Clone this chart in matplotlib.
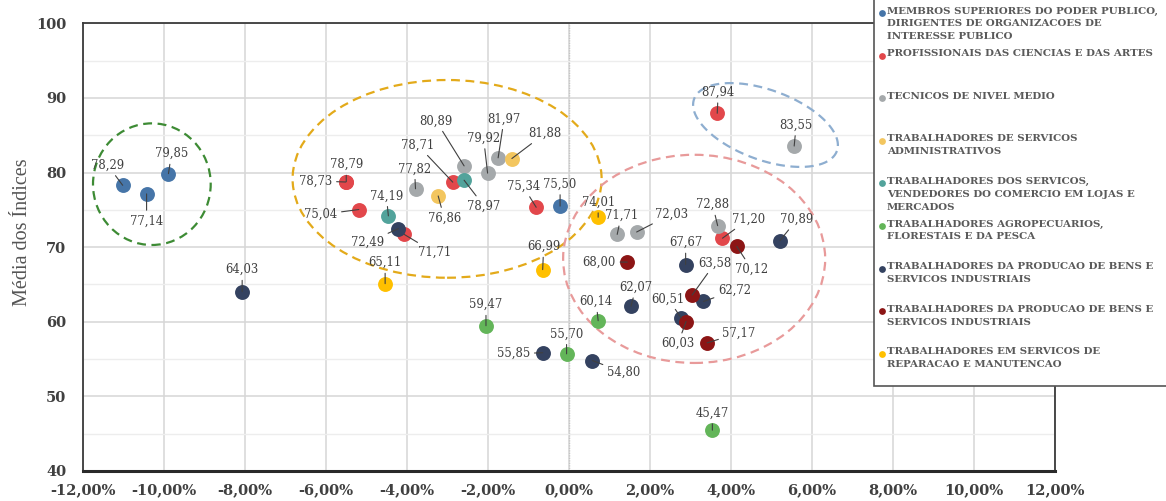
import numpy as np
import matplotlib
matplotlib.use("Agg")
import matplotlib.pyplot as plt
from matplotlib.patches import Ellipse, Rectangle
from matplotlib.ticker import MultipleLocator, FuncFormatter

# ---------------- data ----------------
categories = [
    "MEMBROS SUPERIORES DO PODER PUBLICO,\nDIRIGENTES DE ORGANIZACOES DE\nINTERESSE PUBLICO",
    "PROFISSIONAIS DAS CIENCIAS E DAS ARTES",
    "TECNICOS DE NIVEL MEDIO",
    "TRABALHADORES DE SERVICOS\nADMINISTRATIVOS",
    "TRABALHADORES DOS SERVICOS,\nVENDEDORES DO COMERCIO EM LOJAS E\nMERCADOS",
    "TRABALHADORES AGROPECUARIOS,\nFLORESTAIS E DA PESCA",
    "TRABALHADORES DA PRODUCAO DE BENS E\nSERVICOS INDUSTRIAIS",
    "TRABALHADORES DA PRODUCAO DE BENS E\nSERVICOS INDUSTRIAIS",
    "TRABALHADORES EM SERVICOS DE\nREPARACAO E MANUTENCAO",
]

x_membros = [-11.02, -10.43, -9.89, -0.22]
y_membros = [78.29, 77.14, 79.85, 75.50]

x_prof = [-5.50, -5.51, -5.19, -4.07, -2.87, -0.81, 3.66, 3.79]
y_prof = [78.79, 78.73, 75.04, 71.71, 78.71, 75.34, 87.94, 71.20]

x_tec = [-3.79, -2.59, -2.01, -1.75, 1.19, 1.67, 3.67, 5.56]
y_tec = [77.82, 80.89, 79.92, 81.97, 71.71, 72.03, 72.88, 83.55]

x_adm = [-3.23, -1.41]
y_adm = [76.86, 81.88]

x_serv = [-4.46, -2.59]
y_serv = [74.19, 78.97]

x_agro = [-2.05, -0.06, 0.72, 3.54]
y_agro = [59.47, 55.70, 60.14, 45.47]

x_prod = [-8.07, -4.21, -0.65, 0.58, 1.53, 2.88, 2.77, 3.32, 5.21]
y_prod = [64.03, 72.49, 55.85, 54.80, 62.07, 67.67, 60.51, 62.72, 70.89]

x_prod2 = [1.44, 3.04, 2.89, 4.14, 3.41]
y_prod2 = [68.00, 63.58, 60.03, 70.12, 57.17]

x_rep = [-4.54, -0.65, 0.72]
y_rep = [65.11, 66.99, 74.01]

xs = [x_membros, x_prof, x_tec, x_adm, x_serv, x_agro, x_prod, x_prod2, x_rep]
ys = [y_membros, y_prof, y_tec, y_adm, y_serv, y_agro, y_prod, y_prod2, y_rep]

# ---------------- styling / positions ----------------
colors = ["#4675a8", "#e2474b", "#a5a9ab", "#f3c65f", "#52a39b",
          "#63b559", "#344260", "#8c1515", "#ffc000"]

# label offsets in pixels (dx, dy), parallel to each series
offsets = [
    [(-15, 20), (0, -27), (3, 20), (0, 22)],
    [(0, 17), (-30, 1), (-38, -5), (30, -18), (-35, 37), (-13, 21), (1, 21), (26, 19)],
    [(-1, 20), (-28, 45), (-4, 35), (6, 39), (4, 19), (35, 18), (-5, 21), (2, 21)],
    [(6, -22), (33, 25)],
    [(-2, 20), (20, -26)],
    [(0, 21), (0, 20), (-2, 19), (0, 17)],
    [(0, 22), (-31, -14), (-29, -1), (31, -12), (5, 19), (0, 22), (-13, 19), (31, 11), (17, 21)],
    [(-28, 0), (23, 32), (-8, -22), (15, -23), (32, 10)],
    [(0, 21), (1, 23), (0, 15)],
]

W, H = 1166, 501
fig = plt.figure(figsize=(W / 100, H / 100), dpi=100)
L, R, T, B = 83, 1055, 23.3, 471
ax = fig.add_axes([L / W, (H - B) / H, (R - L) / W, (B - T) / H])

ax.set_xlim(-12, 12)
ax.set_ylim(40, 100)

# grid
ax.xaxis.set_major_locator(MultipleLocator(2))
ax.yaxis.set_major_locator(MultipleLocator(10))
ax.yaxis.set_minor_locator(MultipleLocator(5))
ax.grid(True, which="major", color="#d6d6d6", lw=1.1, zorder=0)
ax.grid(True, which="minor", axis="y", color="#ededed", lw=1.0, zorder=0)
ax.axvline(0, color="#8a8a8a", lw=0.9, ls=(0, (1, 1)), zorder=0.5)
ax.tick_params(axis="both", which="both", length=0)

for s in ["left", "top", "right"]:
    ax.spines[s].set_color("#3a3a3a")
    ax.spines[s].set_linewidth(1.3)
ax.spines["bottom"].set_color("#2a2a2a")
ax.spines["bottom"].set_linewidth(2.2)

ax.xaxis.set_major_formatter(FuncFormatter(lambda v, p: f"{v:.2f}%".replace(".", ",")))
ax.tick_params(axis="x", pad=9)
ax.tick_params(axis="y", pad=12)
tick_font = dict(family="DejaVu Serif", weight="bold", size=10.5)
plt.setp(ax.get_xticklabels(), **tick_font, color="#404040")
plt.setp(ax.get_yticklabels(), **tick_font, color="#404040")

ax.set_ylabel("Média dos Índices", family="Liberation Serif", size=14.5, color="#555555")
ax.yaxis.set_label_coords(-0.0525, 0.534)

# points
for xv, yv, c in zip(xs, ys, colors):
    ax.scatter(xv, yv, s=115, color=c, zorder=3, linewidths=0)

# labels
for xv, yv, offs in zip(xs, ys, offsets):
    for x, y, (dx, dy) in zip(xv, yv, offs):
        ax.annotate(f"{y:.2f}".replace(".", ","), xy=(x, y), xytext=(dx, dy),
                    textcoords="offset pixels", ha="center", va="center",
                    family="DejaVu Serif", size=8.4, color="#404040", zorder=4,
                    arrowprops=dict(arrowstyle="-", color="#404040", lw=0.8,
                                    shrinkA=1, shrinkB=0))

# dashed ellipses
dash = (0, (4, 2.5))
ell_specs = [
    ((-10.30, 78.44), 2.906, 16.3, "#3d8b34"),
    ((-3.01, 79.15), 7.63, 26.5, "#e3aa1a"),
    ((3.09, 68.43), 6.47, 27.9, "#e89a9a"),
]
for (cx, cy), w, h, c in ell_specs:
    ax.add_patch(Ellipse((cx, cy), w, h, fill=False, ec=c, lw=1.6, ls=dash, zorder=2))

# tilted ellipse (defined in pixel geometry, converted to data)
px_per_x = (R - L) / 24.0
px_per_y = (B - T) / 60.0
t = np.linspace(0, 2 * np.pi, 300)
a, b, ang = 76, 35, np.deg2rad(20)
cxp, cyp = 765.5, 125.0
u = a * np.cos(t)
v = b * np.sin(t)
pxs = cxp + u * np.cos(ang) - v * np.sin(ang)
pys = cyp + u * np.sin(ang) + v * np.cos(ang)
ax.plot((pxs - L) / px_per_x - 12, 100 - (pys - T) / px_per_y,
        color="#8eaed0", lw=1.6, ls=dash, zorder=2)

# legend panel
lax = fig.add_axes([873 / W, 0, 1 - 873 / W, 1], zorder=10)
lax.set_xlim(873, W)
lax.set_ylim(H, 0)
lax.axis("off")
lax.add_patch(Rectangle((873.5, -5), 400, 391, fc="white", ec="#555555", lw=1.2))
for i, (name, c) in enumerate(zip(categories, colors)):
    yy = 13 + i * 42.6
    lax.scatter([881.5], [yy], s=24, color=c, linewidths=0)
    lax.text(887, yy - 6.5, name, ha="left", va="top", family="DejaVu Serif",
             weight="bold", size=7.4, color="#5a5a5a", linespacing=1.55)

fig.savefig("out.png", dpi=100)
